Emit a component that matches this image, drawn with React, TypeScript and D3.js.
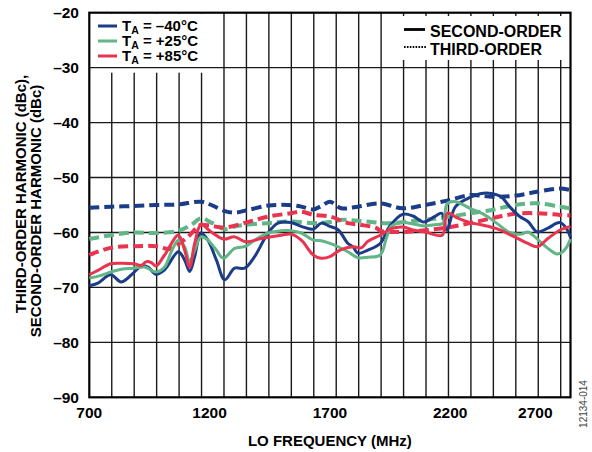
import React from 'react';
import * as d3 from 'd3';

// axis ticks
const xTicks = [700, 1200, 1700, 2200, 2700];
const yTicks = [-20, -30, -40, -50, -60, -70, -80, -90];
const gridStep = 93.3; // vertical grid pitch of the original plot (MHz)

// [LO frequency (MHz), harmonic (dBc)]
const secondM40: [number, number][] = [
  [700, -69.7], [736, -69.2], [789, -67.7], [833, -69.0], [885, -67.3], [916, -66.1],
  [944, -66.3], [977, -67.6], [1013, -66.8], [1070, -63.5], [1096, -65.0], [1117, -67.1],
  [1138, -64.4], [1164, -60.1], [1193, -61.4], [1228, -65.0], [1263, -68.6], [1304, -66.5],
  [1346, -66.5], [1387, -64.4], [1443, -60.1], [1484, -58.3], [1538, -58.2], [1581, -58.9],
  [1631, -59.4], [1664, -58.3], [1700, -58.9], [1734, -59.5], [1775, -62.0], [1796, -62.6],
  [1817, -63.8], [1858, -63.2], [1909, -62.0], [1948, -58.9], [2002, -56.7], [2045, -57.0],
  [2090, -58.1], [2135, -57.1], [2165, -56.5], [2185, -59.6], [2222, -55.3], [2274, -53.8],
  [2329, -52.9], [2371, -52.9], [2412, -53.5], [2447, -55.3], [2489, -57.1], [2523, -58.0],
  [2562, -59.9], [2606, -59.2], [2655, -58.2], [2682, -59.2], [2700, -60.9],
];

const thirdM40: [number, number][] = [
  [700, -55.5], [789, -55.3], [885, -55.2], [977, -55.0], [1070, -54.9], [1164, -54.4],
  [1207, -55.0], [1263, -56.1], [1304, -56.4], [1351, -56.0], [1444, -55.1], [1526, -55.0],
  [1581, -55.3], [1631, -55.8], [1664, -55.2], [1700, -54.4], [1747, -55.6], [1817, -55.3],
  [1909, -54.7], [2002, -55.6], [2095, -55.0], [2188, -54.2], [2282, -53.2], [2375, -53.5],
  [2468, -53.3], [2562, -52.6], [2655, -52.0], [2700, -52.3],
];

const secondP25: [number, number][] = [
  [700, -68.3], [750, -67.8], [789, -67.2], [833, -66.7], [885, -66.5], [930, -66.3],
  [977, -67.2], [1013, -66.3], [1041, -63.5], [1070, -61.4], [1096, -62.6], [1117, -65.3],
  [1138, -63.2], [1164, -60.8], [1193, -61.4], [1228, -63.2], [1257, -64.7], [1304, -62.9],
  [1351, -62.5], [1387, -61.4], [1444, -60.1], [1498, -59.7], [1538, -59.7], [1581, -60.1],
  [1631, -61.4], [1664, -61.5], [1700, -62.0], [1734, -62.6], [1775, -63.5], [1817, -64.6],
  [1858, -64.5], [1909, -64.1], [1935, -61.0], [1955, -58.9], [2002, -58.2], [2052, -58.5],
  [2095, -58.8], [2135, -58.6], [2170, -58.3], [2187, -54.8], [2222, -54.4], [2282, -55.6],
  [2343, -56.8], [2393, -58.3], [2447, -60.0], [2495, -60.3], [2523, -59.9], [2562, -61.2],
  [2606, -62.9], [2643, -63.9], [2665, -63.6], [2682, -62.8], [2700, -61.2],
];

const thirdP25: [number, number][] = [
  [700, -61.2], [789, -60.5], [885, -60.0], [977, -60.1], [1070, -59.7], [1124, -58.6],
  [1164, -57.4], [1207, -58.2], [1263, -59.4], [1304, -58.9], [1351, -58.6], [1444, -58.3],
  [1538, -58.0], [1631, -58.3], [1700, -58.1], [1756, -57.7], [1825, -57.9], [1936, -58.3],
  [2005, -58.1], [2095, -57.7], [2188, -57.2], [2282, -56.5], [2375, -55.9], [2468, -55.0],
  [2562, -54.7], [2655, -55.3], [2700, -55.6],
];

const secondP85: [number, number][] = [
  [700, -67.7], [736, -66.9], [789, -65.7], [833, -65.6], [885, -65.7], [916, -66.0],
  [937, -65.3], [958, -65.5], [977, -66.1], [1013, -64.1], [1070, -60.5], [1096, -63.2],
  [1117, -66.3], [1138, -62.0], [1164, -58.6], [1207, -59.9], [1257, -61.2], [1304, -60.8],
  [1351, -61.7], [1415, -61.1], [1498, -60.5], [1538, -60.3], [1581, -61.4], [1631, -64.1],
  [1664, -64.7], [1700, -64.4], [1742, -63.2], [1796, -62.6], [1830, -62.8], [1858, -61.6],
  [1909, -60.5], [1955, -59.3], [2002, -59.0], [2052, -59.6], [2095, -59.9], [2167, -60.5],
  [2188, -56.5], [2232, -57.4], [2282, -58.2], [2329, -58.6], [2393, -59.3], [2468, -60.8],
  [2523, -62.0], [2562, -62.6], [2606, -61.1], [2655, -59.6], [2700, -58.9],
];

const thirdP85: [number, number][] = [
  [700, -64.1], [789, -62.8], [885, -62.5], [977, -62.5], [1035, -63.0], [1070, -62.1],
  [1110, -60.8], [1145, -59.2], [1164, -58.6], [1207, -58.8], [1263, -59.1], [1351, -58.2],
  [1444, -57.1], [1538, -56.5], [1581, -56.2], [1631, -56.8], [1700, -57.1], [1775, -58.3],
  [1825, -58.6], [1894, -59.2], [1909, -59.7], [2002, -59.9], [2095, -59.6], [2188, -59.1],
  [2282, -58.3], [2375, -57.4], [2468, -56.6], [2562, -56.5], [2655, -56.8], [2700, -56.9],
];

const tempLabels = ['–40°C', '+25°C', '+85°C'];
const tempColors = ['#1b3c88', '#62b587', '#e8344f'];

const W = 592;
const H = 452;
const margin = { top: 12.7, right: 21.5, bottom: 54.7, left: 89.3 };
const font = '"Liberation Sans", Arial, Helvetica, sans-serif';

export default function App() {
  const x = d3.scaleLinear().domain([700, 2700]).range([margin.left, W - margin.right]);
  const y = d3.scaleLinear().domain([-90, -20]).range([H - margin.bottom, margin.top]);
  const line = d3
    .line<[number, number]>()
    .x(d => x(d[0]))
    .y(d => y(d[1]))
    .curve(d3.curveCatmullRom.alpha(0.5));

  const [x0, x1] = x.range();
  const [yb, yt] = y.range();
  const gridX = d3.range(1, 22).map(i => 700 + i * gridStep);

  const third = [thirdM40, thirdP25, thirdP85];
  const second = [secondM40, secondP25, secondP85];

  return (
    <svg
      width={W}
      height={H}
      style={{ position: 'absolute', left: 0, top: 0, background: '#fff' }}
      fontFamily={font}
      fontWeight="bold"
    >
      {/* vertical grid */}
      {gridX.map(g => (
        <line key={g} x1={x(g)} x2={x(g)} y1={yt} y2={yb} stroke="#1a1a1a" strokeWidth={1.4} />
      ))}

      {/* legend boxes hide the grid */}
      <rect x={x0 + 1} y={yt + 1} width={131} height={59} fill="#fff" />
      <rect x={398} y={16} width={x1 - 398 - 1} height={44} fill="#fff" />

      {/* horizontal grid */}
      {yTicks.slice(1, -1).map(t => (
        <line key={t} x1={x0} x2={x1} y1={y(t)} y2={y(t)} stroke="#1a1a1a" strokeWidth={1.4} />
      ))}

      {/* frame */}
      <rect x={x0} y={yt} width={x1 - x0} height={yb - yt} fill="none" stroke="#000" strokeWidth={2.2} />

      {/* third-order (dashed) */}
      {third.map((s, i) => (
        <path key={'t' + i} d={line(s) || ''} fill="none" stroke={tempColors[i]}
          strokeWidth={4} strokeDasharray="10,5" />
      ))}
      {/* second-order (solid) */}
      {second.map((s, i) => (
        <path key={'s' + i} d={line(s) || ''} fill="none" stroke={tempColors[i]}
          strokeWidth={3} strokeLinejoin="round" />
      ))}

      {/* y tick labels */}
      {yTicks.map(t => (
        <text key={t} x={79} y={y(t)} dy="0.36em" textAnchor="end" fontSize={15.5}>
          {'–' + Math.abs(t)}
        </text>
      ))}

      {/* x tick labels */}
      {xTicks.map((t, i) => {
        const last = i === xTicks.length - 1;
        return (
          <text key={t} x={x(t) + (last ? -18 : 0)} y={418} textAnchor={last ? 'end' : 'middle'} fontSize={15.5}>
            {t}
          </text>
        );
      })}

      {/* axis titles */}
      <text x={(x0 + x1) / 2} y={446} textAnchor="middle" fontSize={15}>
        LO FREQUENCY (MHz)
      </text>
      <text transform="translate(25.5,194) rotate(-90)" textAnchor="middle" fontSize={15}>
        THIRD-ORDER HARMONIC (dBc),
      </text>
      <text transform="translate(40.7,211) rotate(-90)" textAnchor="middle" fontSize={15}>
        SECOND-ORDER HARMONIC (dBc)
      </text>

      {/* temperature legend */}
      {tempLabels.map((lab, i) => {
        const ly = 26 + i * 15;
        return (
          <g key={lab}>
            <line x1={98} x2={117} y1={ly} y2={ly} stroke={tempColors[i]} strokeWidth={3} />
            <text x={122} y={ly + 4.5} fontSize={15} style={{ whiteSpace: 'pre' }}>
              T<tspan fontSize={10.5} dy={3}>A</tspan><tspan dy={-3}>{' = ' + lab}</tspan>
            </text>
          </g>
        );
      })}

      {/* order legend */}
      <line x1={404} x2={425} y1={29.5} y2={29.5} stroke="#000" strokeWidth={2.8} />
      <text x={430} y={36.5} fontSize={16}>SECOND-ORDER</text>
      <line x1={404} x2={427} y1={47} y2={47} stroke="#000" strokeWidth={2.2} strokeDasharray="1.6,1.3" />
      <text x={430} y={55} fontSize={16}>THIRD-ORDER</text>

      {/* figure number */}
      <text transform="translate(587,404) rotate(-90)" textAnchor="middle" fontSize={10}
        fontWeight="normal" fill="#444">
        12134-014
      </text>
    </svg>
  );
}
